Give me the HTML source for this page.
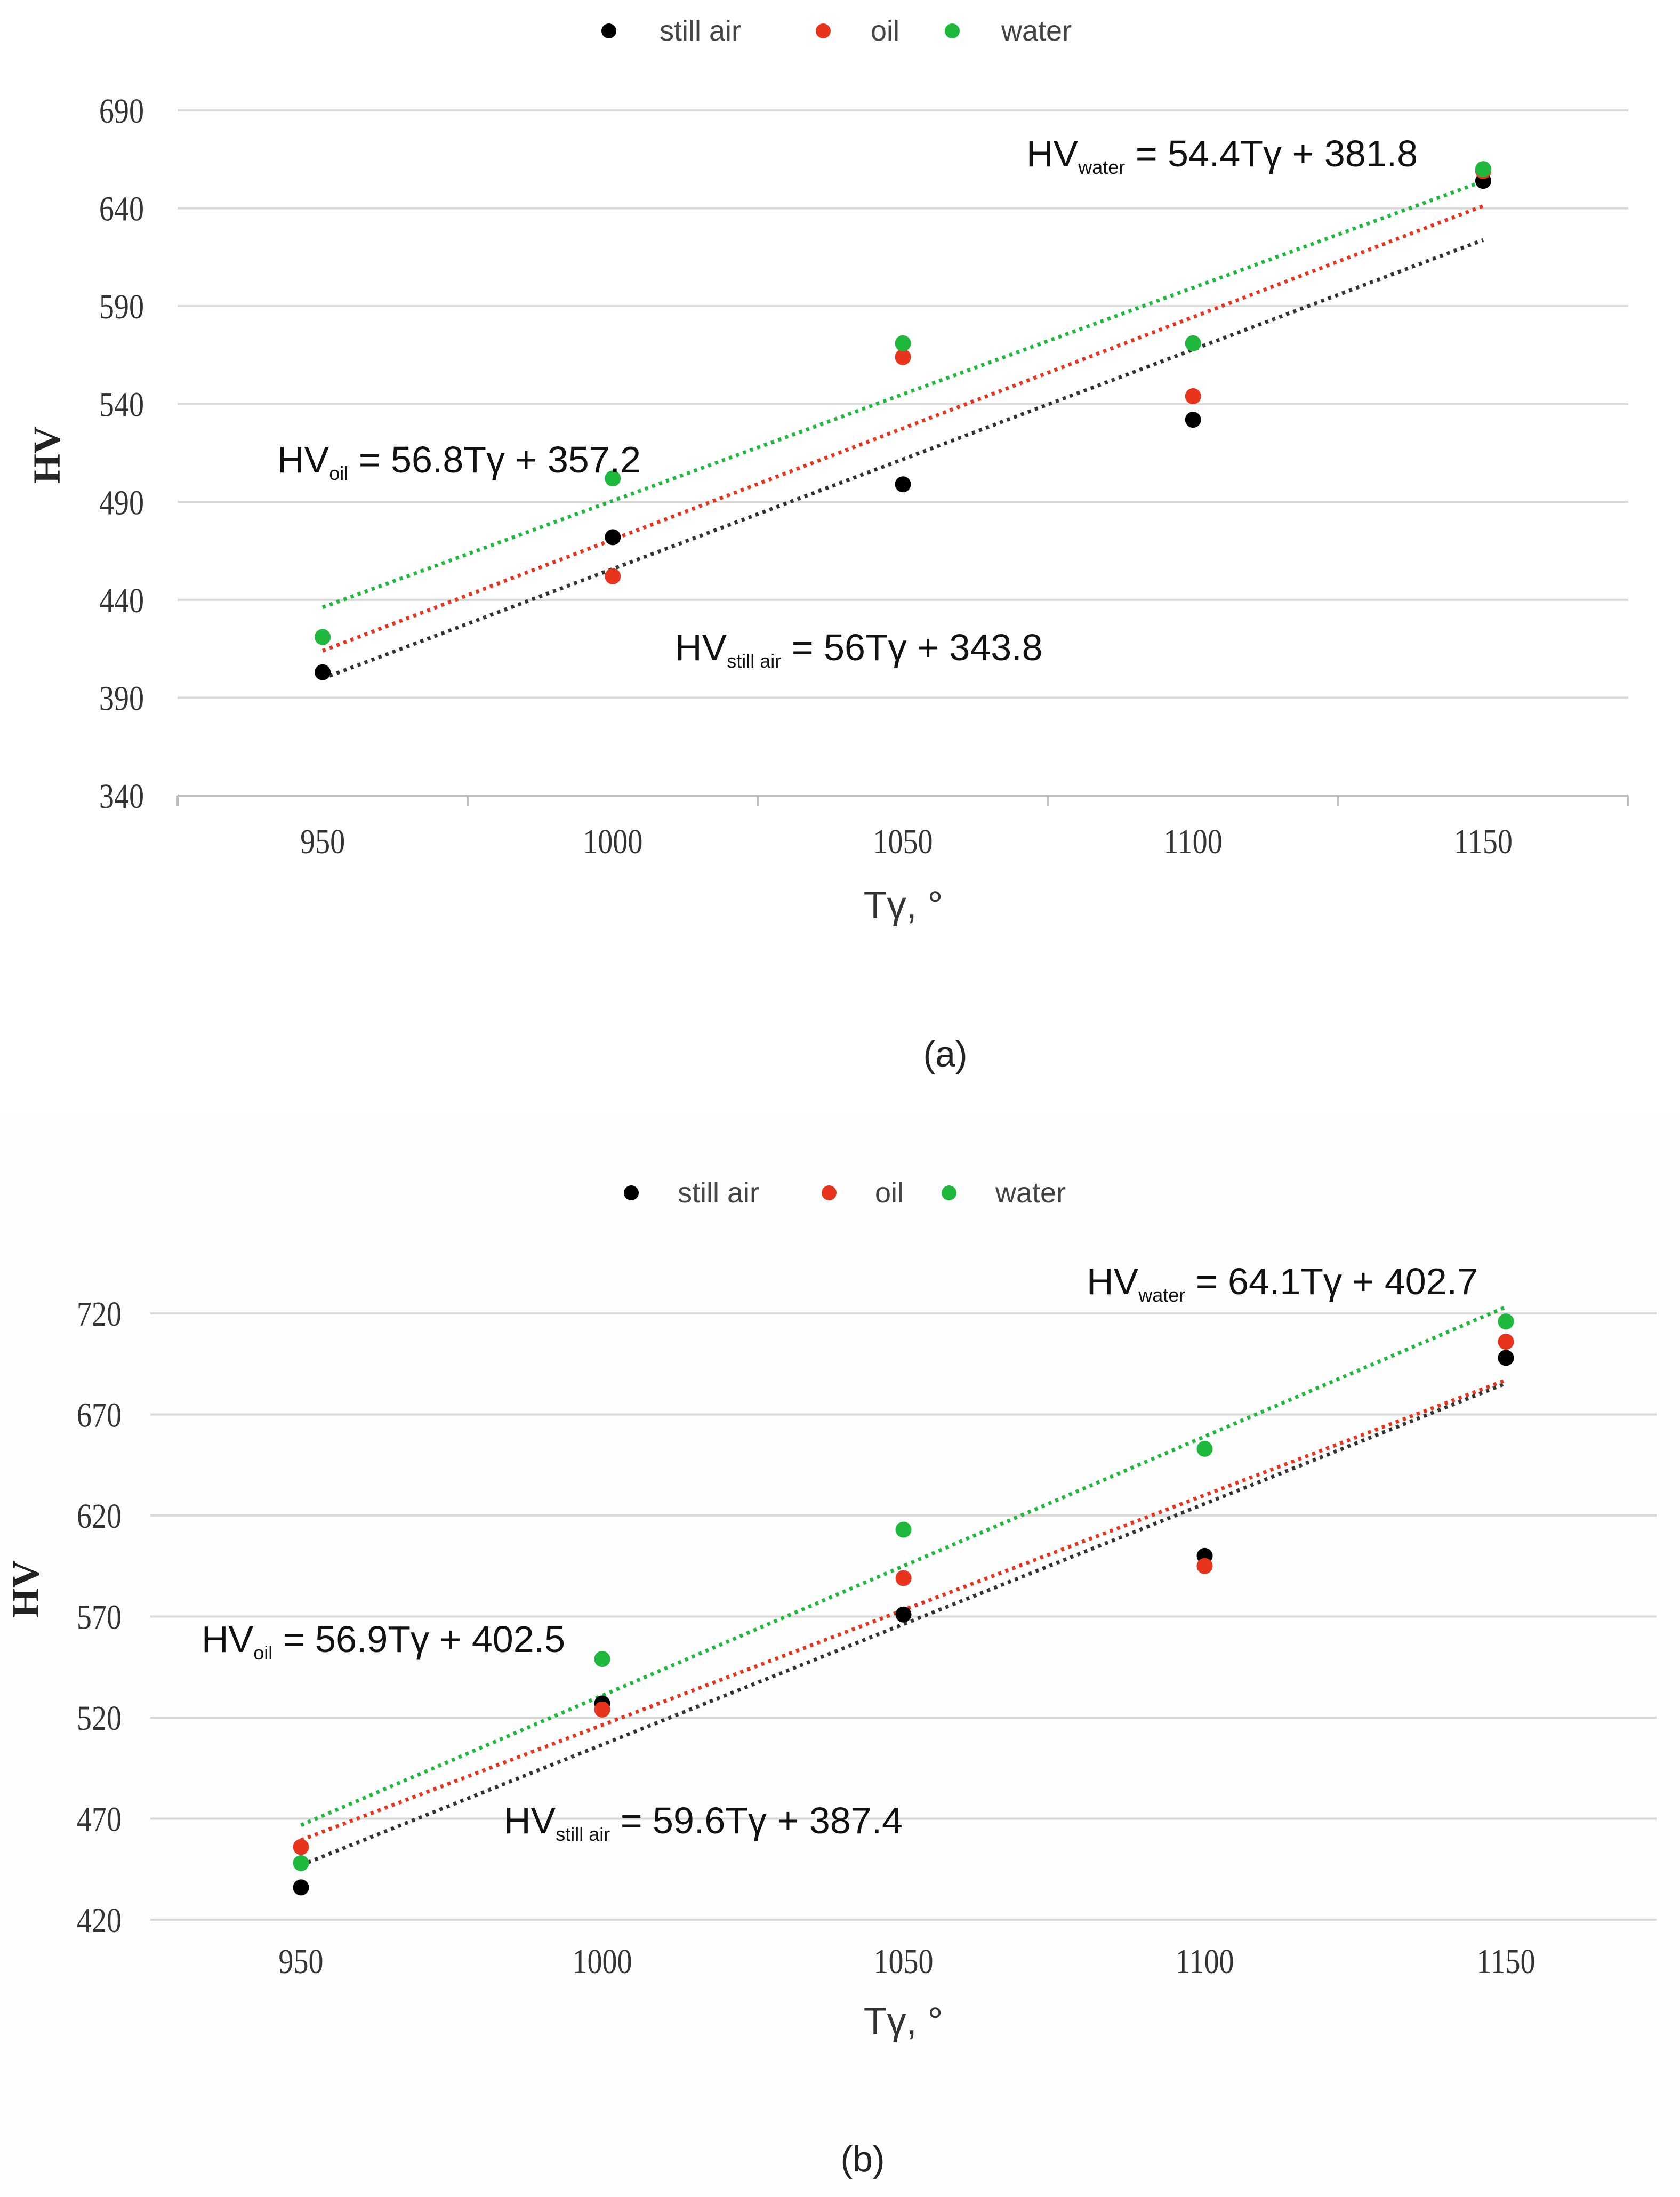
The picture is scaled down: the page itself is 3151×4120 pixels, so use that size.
<!DOCTYPE html>
<html><head><meta charset="utf-8"><style>
html,body{margin:0;padding:0;background:#fff;}
svg{display:block;}
</style></head><body>
<svg id="fig" width="3151" height="4120" viewBox="0 0 3151 4120" xmlns="http://www.w3.org/2000/svg">
<rect x="0" y="0" width="3151" height="4120" fill="#fff"/>
<rect x="0" y="2090" width="3151" height="2030" fill="#fefefe"/>
<g id="chartA"></g>
<g id="chartB"></g>
</svg>
<script>
const categories = [950, 1000, 1050, 1100, 1150];
const seriesNames = ["still air", "oil", "water"];
const seriesColors = ["#000000", "#e8341c", "#1db83c"];
// chart (a)
const aStillAir = [403, 472, 499, 532, 654];
const aOil = [421, 452, 564, 544, 659];
const aWater = [421, 502, 571, 571, 660];
const aSlopes = [56, 56.8, 54.4];
const aIntercepts = [343.8, 357.2, 381.8];
const aYTicks = [340, 390, 440, 490, 540, 590, 640, 690];
// chart (b)
const bStillAir = [436, 527, 571, 600, 698];
const bOil = [456, 524, 589, 595, 706];
const bWater = [448, 549, 613, 653, 716];
const bSlopes = [59.6, 56.9, 64.1];
const bIntercepts = [387.4, 402.5, 402.7];
const bYTicks = [420, 470, 520, 570, 620, 670, 720];

const NS = "http://www.w3.org/2000/svg";
function mk(parent, tag, attrs, text) {
  const e = document.createElementNS(NS, tag);
  for (const k in attrs) e.setAttribute(k, attrs[k]);
  if (text !== undefined) e.textContent = text;
  parent.appendChild(e);
  return e;
}

function draw(g, cfg, values, slopes, intercepts, yTicks) {
  const yMin = yTicks[0], yMax = yTicks[yTicks.length - 1];
  const band = (cfg.right - cfg.left) / categories.length;
  const xS = i => cfg.left + band * (i + 0.5);
  const yS = v => cfg.bottom - (v - yMin) / (yMax - yMin) * (cfg.bottom - cfg.top);
  yTicks.forEach(t => {
    const ln = mk(g, "line", {x1: cfg.left, x2: cfg.right, y1: yS(t), y2: yS(t), stroke: t === yMin && cfg.axisDark ? "#bfbfbf" : "#d9d9d9", "stroke-width": 4});
    
    
    const tx = mk(g, "text", {x: 0, y: 0, transform: `translate(${cfg.yLabelX},${yS(t) + 23}) scale(0.85,1)`, "text-anchor": "end", "font-family": "Liberation Serif, serif", "font-size": 66, fill: "#333"}, t);
    
    
  });
  if (cfg.axisDark) {
    for (let i = 0; i <= categories.length; i++) {
      const tk = mk(g, "line", {x1: cfg.left + band * i, x2: cfg.left + band * i, y1: cfg.bottom, y2: cfg.bottom + 20, stroke: "#bfbfbf", "stroke-width": 4});
      
      
    }
  }
  categories.forEach((c, i) => {
    const tx = mk(g, "text", {x: 0, y: 0, transform: `translate(${xS(i)},${cfg.xLabelY + 4}) scale(0.85,1)`, "text-anchor": "middle", "font-family": "Liberation Serif, serif", "font-size": 66, fill: "#333"}, c);
    
    
  });
  slopes.forEach((s, k) => {
    const tl = mk(g, "line", {x1: xS(0), y1: yS(s * 1 + intercepts[k]), x2: xS(categories.length - 1), y2: yS(s * categories.length + intercepts[k]), stroke: k === 0 ? "#333" : seriesColors[k], "stroke-width": 7, "stroke-dasharray": "6 8"});
    
    
  });
  values.forEach((arr, k) => {
    arr.forEach((v, i) => {
      const c = mk(g, "circle", {cx: xS(i), cy: yS(v), r: 15, fill: seriesColors[k]});
      
      
    });
  });
  cfg.legend.forEach((L, k) => {
    const d = mk(g, "circle", {cx: L[0], cy: cfg.legendY, r: 14, fill: seriesColors[k]});
    
    
    const t = mk(g, "text", {x: L[1], y: cfg.legendY + 18, "font-family": "Liberation Sans, sans-serif", "font-size": 54, fill: "#444"}, seriesNames[k]);
    
    
  });
  const yt = mk(g, "text", {x: 0, y: 0, transform: `translate(${cfg.yTitle[0]},${cfg.yTitle[1]}) rotate(-90)`, "text-anchor": "middle", "font-family": "Liberation Serif, serif", "font-weight": "bold", "font-size": 72, fill: "#222"}, "HV");
  
  
  const xt = mk(g, "text", {x: cfg.xTitle[0], y: cfg.xTitle[1], "text-anchor": "middle", "font-family": "Liberation Sans, sans-serif", "font-size": 72, fill: "#333"}, "Tγ, °");
  
  
  const cap = mk(g, "text", {x: cfg.caption[0], y: cfg.caption[1], "text-anchor": "middle", "font-family": "Liberation Sans, sans-serif", "font-size": 68, fill: "#222"}, cfg.caption[2]);
  
  
  cfg.eqs.forEach((E, k) => {
    const t = mk(g, "text", {x: E[0], y: E[1], "font-family": "Liberation Sans, sans-serif", "font-size": 70, fill: "#111"});
    
    
    mk(t, "tspan", {}, "HV");
    mk(t, "tspan", {"font-size": 36, dy: 14}, seriesNames[k]);
    mk(t, "tspan", {dy: -14}, " = " + slopes[k] + "Tγ + " + intercepts[k]);
  });
}

draw(document.getElementById("chartA"), {
  left: 333, right: 3054, top: 207, bottom: 1492, yLabelX: 270, xLabelY: 1596, axisDark: true,
  legendY: 58, legend: [[1142, 1237], [1544, 1633], [1786, 1878]],
  yTitle: [112, 853], xTitle: [1694, 1722], caption: [1773, 2000, "(a)"],
  eqs: [[1266, 1238], [520, 886], [1925, 312]]
}, [aStillAir, aOil, aWater], aSlopes, aIntercepts, aYTicks);

draw(document.getElementById("chartB"), {
  left: 282, right: 3107, top: 2463, bottom: 3600, yLabelX: 228, xLabelY: 3696, axisDark: false,
  legendY: 2237, legend: [[1184, 1271], [1555, 1641], [1780, 1867]],
  yTitle: [72, 2980], xTitle: [1694, 3815], caption: [1618, 4072, "(b)"],
  eqs: [[945, 3438], [378, 3098], [2038, 2427]]
}, [bStillAir, bOil, bWater], bSlopes, bIntercepts, bYTicks);
</script>
</body></html>
